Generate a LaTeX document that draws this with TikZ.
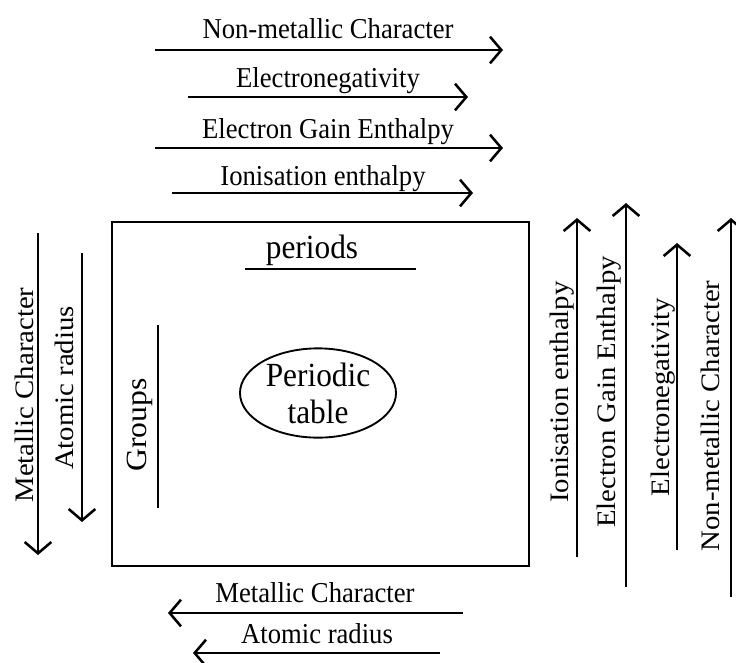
\documentclass[tikz,border=0pt]{standalone}
\usepackage{fontspec}
\setmainfont{Liberation Serif}
\usepackage{tikz}
\usetikzlibrary{arrows.meta,shapes.geometric}

\begin{document}
\begin{tikzpicture}[x=0.75pt,y=0.75pt,yscale=-1,xscale=1,
  trend/.style={line width=1.9pt,-{Straight Barb[length=8.5pt,width=20pt]}},
  rule/.style={line width=1.4pt},
  txt/.style={inner sep=0pt,anchor=base},
  lbl/.style={txt,yscale=1.08,font=\fontsize{20}{24}\selectfont},
  vlbl/.style={txt,rotate=90,xscale=1.08,font=\fontsize{20}{24}\selectfont},
  biglbl/.style={txt,yscale=1.08,font=\fontsize{23.5}{26}\selectfont}]
\useasboundingbox (0,0) rectangle (736,662);
\draw[rule] (112,222) rectangle (529,566);
\coordinate (topNM1) at (155,50);  \coordinate (topNM2) at (503,50);
\coordinate (topEN1) at (188,97);  \coordinate (topEN2) at (468,97);
\coordinate (topEG1) at (155,148); \coordinate (topEG2) at (503,148);
\coordinate (topIE1) at (172,193); \coordinate (topIE2) at (473,193);
\coordinate (botMC1) at (463,613); \coordinate (botMC2) at (168,613);
\coordinate (botAR1) at (440,653); \coordinate (botAR2) at (193,653);
\coordinate (leftMC1) at (38,233); \coordinate (leftMC2) at (38,555);
\coordinate (leftAR1) at (82,253); \coordinate (leftAR2) at (82,522);
\coordinate (rightIE1) at (577,557); \coordinate (rightIE2) at (577,218);
\coordinate (rightEG1) at (626,587); \coordinate (rightEG2) at (626,203);
\coordinate (rightEN1) at (677,550); \coordinate (rightEN2) at (677,243);
\coordinate (rightNM1) at (731,597); \coordinate (rightNM2) at (731,218);
\coordinate (per1) at (245,269); \coordinate (per2) at (416,269);
\coordinate (grp1) at (158,325); \coordinate (grp2) at (158,508);
\draw[trend] (topNM1) -- (topNM2);
\draw[trend] (topEN1) -- (topEN2);
\draw[trend] (topEG1) -- (topEG2);
\draw[trend] (topIE1) -- (topIE2);
\draw[trend] (botMC1) -- (botMC2);
\draw[trend] (botAR1) -- (botAR2);
\draw[trend] (leftMC1) -- (leftMC2);
\draw[trend] (leftAR1) -- (leftAR2);
\draw[trend] (rightIE1) -- (rightIE2);
\draw[trend] (rightEG1) -- (rightEG2);
\draw[trend] (rightEN1) -- (rightEN2);
\draw[trend] (rightNM1) -- (rightNM2);
\draw[rule] (per1) -- (per2);
\draw[rule] (grp1) -- (grp2);
\node[lbl] (topNMtext) at (328,38) {Non-metallic Character};
\node[lbl] (topENtext) at (328,87) {Electronegativity};
\node[lbl] (topEGtext) at (328,138) {Electron Gain Enthalpy};
\node[lbl] (topIEtext) at (323,185) {Ionisation enthalpy};
\node[biglbl] (perText) at (312,258) {periods};
\node[lbl] (botMCtext) at (315,602) {Metallic Character};
\node[lbl] (botARtext) at (317,643) {Atomic radius};
\node[vlbl] (leftMCtext) at (33,395) {Metallic Character};
\node[vlbl] (leftARtext) at (73,388) {Atomic radius};
\node[vlbl,font=\fontsize{22}{24}\selectfont] (grpText) at (146,425) {Groups};
\node[vlbl] (rightIEtext) at (568,392) {Ionisation enthalpy};
\node[vlbl] (rightEGtext) at (615,392) {Electron Gain Enthalpy};
\node[vlbl] (rightENtext) at (669,397) {Electronegativity};
\node[vlbl] (rightNMtext) at (719,416) {Non-metallic Character};
\node[draw,ellipse,line width=1.4pt,inner sep=0pt,yscale=1.08,minimum width=117pt,minimum height=62pt,align=center,font=\fontsize{23.5}{25.7}\selectfont] (ptable) at (318,393) {Periodic\\table};
\end{tikzpicture}
\end{document}
